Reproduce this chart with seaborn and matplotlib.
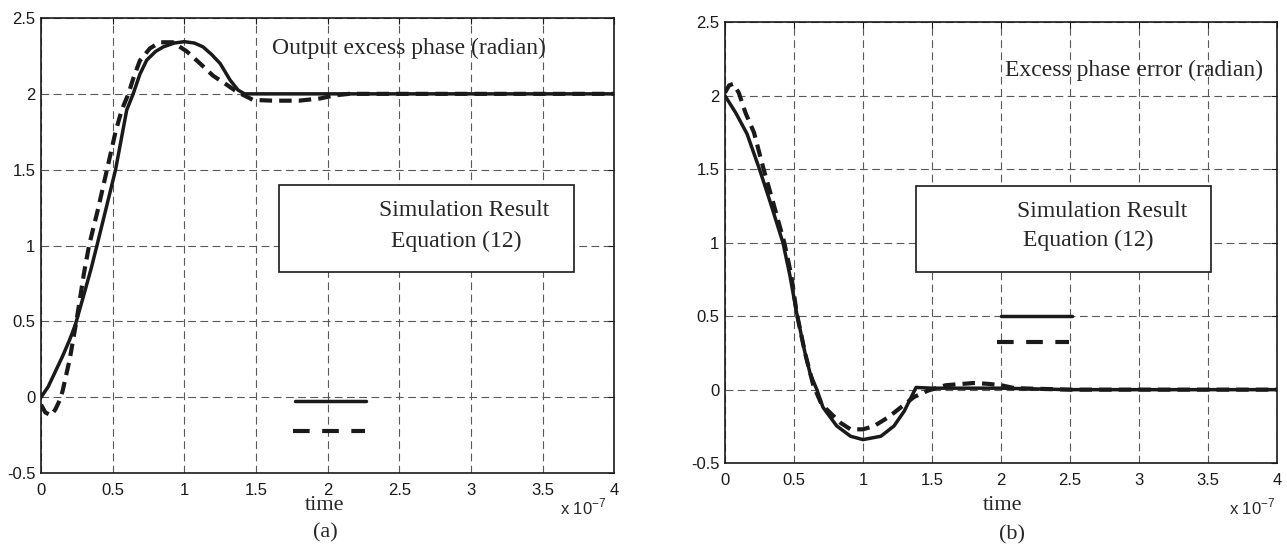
import numpy as np
import pandas as pd
import matplotlib
matplotlib.use("Agg")
import matplotlib.pyplot as plt
import seaborn as sns

# ---- values (time in units of 1e-7 s) ----
t_sim_a = [0, 0.05, 0.1, 0.15, 0.2, 0.24, 0.3, 0.35, 0.39, 0.45, 0.52, 0.598, 0.643,
           0.69, 0.738, 0.8, 0.854, 0.93, 1.0, 1.07, 1.13, 1.19, 1.25, 1.32, 1.375, 1.42,
           1.5, 2.0, 2.5, 3.0, 3.5, 4.0]
y_sim_a = [0, 0.07, 0.17, 0.27, 0.38, 0.48, 0.68, 0.85, 1.0, 1.23, 1.5, 1.894, 2.0,
           2.13, 2.223, 2.28, 2.31, 2.335, 2.344, 2.335, 2.31, 2.26, 2.2, 2.09, 2.025, 2.0,
           2.0, 2.0, 2.0, 2.0, 2.0, 2.0]

t_eq_a = [0, 0.03, 0.07, 0.1, 0.13, 0.15, 0.2, 0.25, 0.3, 0.335, 0.4, 0.46, 0.52, 0.563,
          0.61, 0.643, 0.69, 0.76, 0.83, 0.92, 1.017, 1.11, 1.2, 1.296, 1.366, 1.48, 1.62,
          1.8, 1.95, 2.05, 2.15, 2.5, 3.0, 3.5, 4.0]
y_eq_a = [-0.05, -0.1, -0.12, -0.08, -0.02, 0.04, 0.25, 0.52, 0.82, 1.0, 1.25, 1.5, 1.75, 1.894,
          2.0, 2.1, 2.22, 2.30, 2.34, 2.34, 2.28, 2.2, 2.12, 2.06, 2.014, 1.96, 1.955,
          1.955, 1.97, 1.99, 2.0, 2.0, 2.0, 2.0, 2.0]

t_sim_b = [0, 0.08, 0.16, 0.25, 0.33, 0.42, 0.47, 0.52, 0.58, 0.617, 0.666, 0.71, 0.81,
           0.91, 1.0, 1.13, 1.225, 1.3, 1.35, 1.385, 1.5, 2.0, 2.5, 3.0, 3.5, 4.0]
y_sim_b = [2.0, 1.88, 1.74, 1.5, 1.27, 1.0, 0.78, 0.52, 0.25, 0.11, 0.0, -0.12, -0.247,
           -0.317, -0.34, -0.317, -0.247, -0.145, -0.05, 0.015, 0.01, 0.01, 0.0, 0.0, 0.0, 0.0]

t_eq_b = [0, 0.03, 0.06, 0.1, 0.15, 0.21, 0.28, 0.35, 0.43, 0.48, 0.52, 0.58, 0.64, 0.7,
          0.836, 0.91, 1.0, 1.08, 1.18, 1.275, 1.37, 1.47, 1.6, 1.8, 1.9, 2.0, 2.1, 2.5,
          3.0, 3.5, 4.0]
y_eq_b = [2.02, 2.07, 2.08, 2.02, 1.88, 1.75, 1.5, 1.27, 1.0, 0.78, 0.52, 0.25, 0.03, -0.1,
          -0.225, -0.27, -0.27, -0.248, -0.19, -0.12, -0.05, -0.007, 0.03, 0.045, 0.04, 0.03,
          0.01, 0.0, 0.0, 0.0, 0.0]

x_ticks = [0, 0.5, 1, 1.5, 2, 2.5, 3, 3.5, 4]
y_ticks = [-0.5, 0, 0.5, 1, 1.5, 2, 2.5]
legend_labels = ["Simulation Result", "Equation (12)"]
titles = ["Output excess phase (radian)", "Excess phase error (radian)"]
panel_tags = ["(a)", "(b)"]

sns.set_theme(style="white")
plt.rcParams["font.family"] = ["Liberation Sans", "DejaVu Sans"]
plt.rcParams["axes.unicode_minus"] = False
SERIF = "Liberation Serif"

fig = plt.figure(figsize=(12.87, 5.54), dpi=100)
ax1 = fig.add_axes([0.0319, 0.146, 0.4453, 0.8215])
ax2 = fig.add_axes([0.5633, 0.164, 0.4289, 0.796])

solid = dict(color="k", lw=2.5)
dashed = dict(color="k", lw=3.0, linestyle=(0, (3, 1.7)))
key_solid = dict(color="k", lw=2.5)
key_dashed = dict(color="k", lw=3.0, linestyle=(0, (4, 3)))


def style_axes(ax):
    ax.set_xlim(0, 4)
    ax.set_ylim(-0.5, 2.5)
    ax.set_xticks(x_ticks)
    ax.set_yticks(y_ticks)
    ax.set_xticklabels(["%g" % v for v in x_ticks])
    ax.set_yticklabels(["%g" % v for v in y_ticks])
    ax.tick_params(direction="in", length=4, width=0.8, labelsize=12, colors="k",
                   top=True, right=True)
    ax.tick_params(axis="x", pad=7)
    ax.tick_params(axis="y", pad=4)
    ax.grid(True, color="0.35", lw=0.8, linestyle=(0, (7, 4)))
    for s in ax.spines.values():
        s.set_color("k")
        s.set_linewidth(1.2)
    ax.set_xlabel("")
    ax.set_ylabel("")


# (a)
sns.lineplot(x=t_sim_a, y=y_sim_a, ax=ax1, sort=False, estimator=None, **solid)
sns.lineplot(x=t_eq_a, y=y_eq_a, ax=ax1, sort=False, estimator=None, **dashed)
style_axes(ax1)
ax1.text(0.403, 0.934, titles[0], transform=ax1.transAxes, family=SERIF, fontsize=17,
         va="center", ha="left")
ax1.add_patch(plt.Rectangle((0.415, 0.442), 0.515, 0.191, transform=ax1.transAxes,
                            fill=True, facecolor="white", edgecolor="k", lw=1.2, zorder=3))
ax1.text(0.590, 0.578, legend_labels[0], transform=ax1.transAxes, family=SERIF,
         fontsize=17, va="center", ha="left", zorder=4)
ax1.text(0.611, 0.510, legend_labels[1], transform=ax1.transAxes, family=SERIF,
         fontsize=17, va="center", ha="left", zorder=4)
ax1.plot([0.443, 0.567], [0.158, 0.158], transform=ax1.transAxes, **key_solid)
ax1.plot([0.440, 0.565], [0.092, 0.092], transform=ax1.transAxes, **key_dashed)

# (b)
sns.lineplot(x=t_sim_b, y=y_sim_b, ax=ax2, sort=False, estimator=None, **solid)
sns.lineplot(x=t_eq_b, y=y_eq_b, ax=ax2, sort=False, estimator=None, **dashed)
style_axes(ax2)
ax2.text(0.507, 0.891, titles[1], transform=ax2.transAxes, family=SERIF, fontsize=17,
         va="center", ha="left")
ax2.add_patch(plt.Rectangle((0.346, 0.433), 0.534, 0.196, transform=ax2.transAxes,
                            fill=True, facecolor="white", edgecolor="k", lw=1.2, zorder=3))
ax2.text(0.529, 0.571, legend_labels[0], transform=ax2.transAxes, family=SERIF,
         fontsize=17, va="center", ha="left", zorder=4)
ax2.text(0.540, 0.506, legend_labels[1], transform=ax2.transAxes, family=SERIF,
         fontsize=17, va="center", ha="left", zorder=4)
ax2.plot([0.500, 0.628], [0.333, 0.333], transform=ax2.transAxes, **key_solid)
ax2.plot([0.4925, 0.6225], [0.274, 0.274], transform=ax2.transAxes, **key_dashed)

# axis labels outside
fig.text(0.2525, 0.0884, "time", family=SERIF, fontsize=16, ha="center", va="center")
fig.text(0.2525, 0.038, panel_tags[0], family=SERIF, fontsize=16, ha="center", va="center")
fig.text(0.435, 0.0854, r"x 10$^{\mathregular{-7}}$", fontsize=12, ha="left", va="center")
fig.text(0.779, 0.0884, "time", family=SERIF, fontsize=16, ha="center", va="center")
fig.text(0.786, 0.034, panel_tags[1], family=SERIF, fontsize=16, ha="center", va="center")
fig.text(0.9907, 0.0854, r"x 10$^{\mathregular{-7}}$", fontsize=12, ha="right", va="center")

fig.savefig("out.png", dpi=100)
